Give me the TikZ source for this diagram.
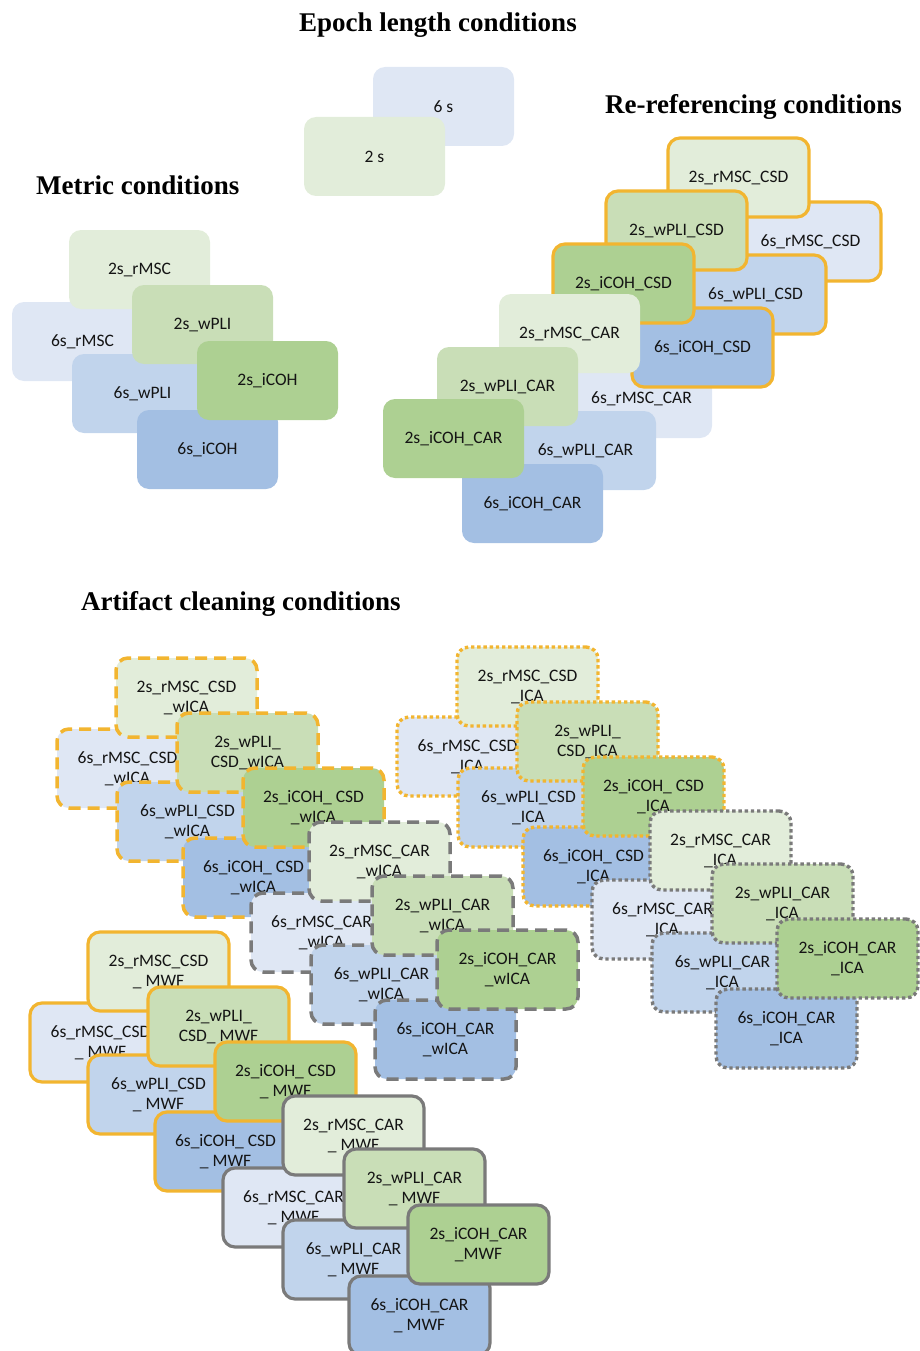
\documentclass[tikz,border=0pt]{standalone}
\usepackage{fontspec}
\setmainfont{Liberation Serif}
\newfontfamily\boxfont{Carlito}
\definecolor{GA}{HTML}{E2EDDA}
\definecolor{GB}{HTML}{C9DEB7}
\definecolor{GC}{HTML}{ADD092}
\definecolor{BA}{HTML}{DFE7F4}
\definecolor{BB}{HTML}{C1D4EC}
\definecolor{BC}{HTML}{A3BFE3}
\definecolor{OR}{HTML}{F2B530}
\definecolor{GR}{HTML}{7A7A7A}
\definecolor{TX}{HTML}{141414}
\newcommand\bx[5]{\node[bx,#4] (#1) at ({#2+70.5},{#3+39.5}) {#5};}
\begin{document}
\begin{tikzpicture}[x=1pt,y=-1pt,
  bx/.style={rounded corners=12pt, minimum width=141pt, minimum height=79pt,
    inner sep=0pt, align=center, text=TX,
    font=\boxfont\fontsize{17.5}{20}\selectfont},
  ga/.style={fill=GA}, gb/.style={fill=GB}, gc/.style={fill=GC},
  ba/.style={fill=BA}, bb/.style={fill=BB}, bc/.style={fill=BC},
  osolid/.style={draw=OR, line width=3.2pt},
  gsolid/.style={draw=GR, line width=3.2pt},
  odash/.style={draw=OR, line width=3.5pt, dash pattern=on 12pt off 7pt},
  gdash/.style={draw=GR, line width=3.5pt, dash pattern=on 12pt off 7pt},
  odot/.style={draw=OR, line width=3.4pt, dash pattern=on 3.4pt off 2.8pt},
  gdot/.style={draw=GR, line width=3.4pt, dash pattern=on 3.4pt off 2.8pt},
  ttl/.style={anchor=base west, inner sep=0pt, font=\bfseries\fontsize{27}{30}\selectfont}]
\useasboundingbox (0,0) rectangle (920,1351);
% titles
\node[ttl] (tEpoch) at (299,31.5) {Epoch length conditions};
\node[ttl] (tReref) at (605,114) {Re-referencing conditions};
\node[ttl] (tMetric) at (36,195) {Metric conditions};
\node[ttl] (tArt) at (81,610) {Artifact cleaning conditions};
% epoch
\bx{e6}{373}{67}{ba}{6 s}
\bx{e2}{304}{117}{ga}{2 s}
% metric
\bx{m6r}{12}{302}{ba}{6s\_rMSC}
\bx{m6w}{72}{354}{bb}{6s\_wPLI}
\bx{m6i}{137}{410}{bc}{6s\_iCOH}
\bx{m2r}{69}{230}{ga}{2s\_rMSC}
\bx{m2w}{132}{285}{gb}{2s\_wPLI}
\bx{m2i}{197}{341}{gc}{2s\_iCOH}
% re-referencing
\bx{r6rA}{571}{359}{ba}{6s\_rMSC\_CAR}
\bx{r6wA}{515}{411}{bb}{6s\_wPLI\_CAR}
\bx{r6iA}{462}{464}{bc}{6s\_iCOH\_CAR}
\bx{r6rS}{740}{202}{ba,osolid}{6s\_rMSC\_CSD}
\bx{r6wS}{685}{255}{bb,osolid}{6s\_wPLI\_CSD}
\bx{r6iS}{632}{308}{bc,osolid}{6s\_iCOH\_CSD}
\bx{r2rS}{668}{138}{ga,osolid}{2s\_rMSC\_CSD}
\bx{r2wS}{606}{191}{gb,osolid}{2s\_wPLI\_CSD}
\bx{r2iS}{553}{244}{gc,osolid}{2s\_iCOH\_CSD}
\bx{r2rA}{499}{294}{ga}{2s\_rMSC\_CAR}
\bx{r2wA}{437}{347}{gb}{2s\_wPLI\_CAR}
\bx{r2iA}{383}{399}{gc}{2s\_iCOH\_CAR}
% wICA CSD
\bx{w6rS}{57}{729}{ba,odash}{6s\_rMSC\_CSD\\\_wICA}
\bx{w6wS}{117}{782}{bb,odash}{6s\_wPLI\_CSD\\\_wICA}
\bx{w6iS}{183}{838}{bc,odash}{6s\_iCOH\_ CSD\\\_wICA}
\bx{w2rS}{116}{658}{ga,odash}{2s\_rMSC\_CSD\\\_wICA}
\bx{w2wS}{177}{713}{gb,odash}{2s\_wPLI\_\\CSD\_wICA}
\bx{w2iS}{243}{768}{gc,odash}{2s\_iCOH\_ CSD\\\_wICA}
% wICA CAR
\bx{w6rA}{251}{893}{ba,gdash}{6s\_rMSC\_CAR\\\_wICA}
\bx{w6wA}{311}{945}{bb,gdash}{6s\_wPLI\_CAR\\\_wICA}
\bx{w6iA}{375}{1000}{bc,gdash}{6s\_iCOH\_CAR\\\_wICA}
\bx{w2rA}{309}{822}{ga,gdash}{2s\_rMSC\_CAR\\\_wICA}
\bx{w2wA}{372}{876}{gb,gdash}{2s\_wPLI\_CAR\\\_wICA}
\bx{w2iA}{437}{930}{gc,gdash}{2s\_iCOH\_CAR\\\_wICA}
% ICA CSD
\bx{i6rS}{397}{717}{ba,odot}{6s\_rMSC\_CSD\\\_ICA}
\bx{i6wS}{458}{768}{bb,odot}{6s\_wPLI\_CSD\\\_ICA}
\bx{i6iS}{523}{827}{bc,odot}{6s\_iCOH\_ CSD\\\_ICA}
\bx{i2rS}{457}{647}{ga,odot}{2s\_rMSC\_CSD\\\_ICA}
\bx{i2wS}{517}{702}{gb,odot}{2s\_wPLI\_\\CSD\_ICA}
\bx{i2iS}{583}{757}{gc,odot}{2s\_iCOH\_ CSD\\\_ICA}
% ICA CAR
\bx{i6rA}{592}{880}{ba,gdot}{6s\_rMSC\_CAR\\\_ICA}
\bx{i6wA}{652}{933}{bb,gdot}{6s\_wPLI\_CAR\\\_ICA}
\bx{i6iA}{716}{989}{bc,gdot}{6s\_iCOH\_CAR\\\_ICA}
\bx{i2rA}{650}{811}{ga,gdot}{2s\_rMSC\_CAR\\\_ICA}
\bx{i2wA}{712}{864}{gb,gdot}{2s\_wPLI\_CAR\\\_ICA}
\bx{i2iA}{777}{919}{gc,gdot}{2s\_iCOH\_CAR\\\_ICA}
% MWF CSD
\bx{f6rS}{30}{1003}{ba,osolid}{6s\_rMSC\_CSD\\\_ MWF}
\bx{f6wS}{88}{1055}{bb,osolid}{6s\_wPLI\_CSD\\\_ MWF}
\bx{f6iS}{155}{1112}{bc,osolid}{6s\_iCOH\_ CSD\\\_ MWF}
\bx{f2rS}{88}{932}{ga,osolid}{2s\_rMSC\_CSD\\\_ MWF}
\bx{f2wS}{148}{987}{gb,osolid}{2s\_wPLI\_\\CSD\_ MWF}
\bx{f2iS}{215}{1042}{gc,osolid}{2s\_iCOH\_ CSD\\\_ MWF}
% MWF CAR
\bx{f6rA}{223}{1168}{ba,gsolid}{6s\_rMSC\_CAR\\\_ MWF}
\bx{f6wA}{283}{1220}{bb,gsolid}{6s\_wPLI\_CAR\\\_ MWF}
\bx{f6iA}{349}{1276}{bc,gsolid}{6s\_iCOH\_CAR\\\_ MWF}
\bx{f2rA}{283}{1096}{ga,gsolid}{2s\_rMSC\_CAR\\\_ MWF}
\bx{f2wA}{344}{1149}{gb,gsolid}{2s\_wPLI\_CAR\\\_ MWF}
\bx{f2iA}{408}{1205}{gc,gsolid}{2s\_iCOH\_CAR\\\_MWF}
\end{tikzpicture}
\end{document}
